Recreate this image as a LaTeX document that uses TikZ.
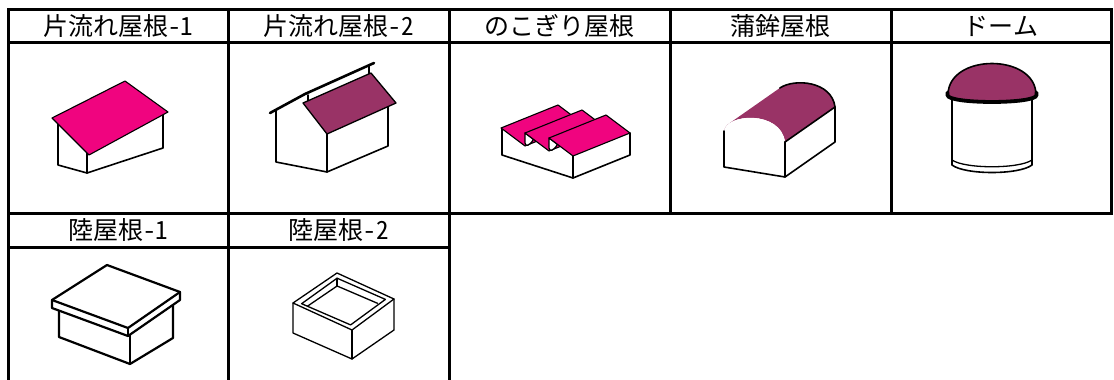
\documentclass[tikz,border=0pt]{standalone}
\usepackage{fontspec}
\newfontfamily\jpfont[RawFeature=+hwid]{Noto Sans CJK JP}
\definecolor{roofpink}{RGB}{240,4,127}
\definecolor{roofplum}{RGB}{153,51,102}
\begin{document}
\begin{tikzpicture}[x=1pt,y=-1pt,
  gridline/.style={line width=3pt},
  hdr/.style={font=\jpfont\fontsize{25}{25}\selectfont, inner sep=0pt, anchor=center},
  edge/.style={line width=1.6pt, line join=round, line cap=round},
  thin edge/.style={line width=1.3pt, line join=round, line cap=round},
  heavy/.style={line width=2.6pt, line join=round, line cap=round},
  pinkroof/.style={fill=roofpink, draw=black, line width=1.1pt, line join=round},
  plumroof/.style={fill=roofplum, draw=black, line width=1.3pt, line join=round}]
\useasboundingbox (0,0) rectangle (1114,380);
\fill[white] (0,0) rectangle (1114,380);

% ---------- grid ----------
\draw[gridline] (8,9) rectangle (1111,213);
\draw[gridline] (8,42) -- (1111,42);
\foreach \x in {228,449,670,891} \draw[gridline] (\x,9) -- (\x,213);
\draw[gridline] (8,213) -- (8,382);
\draw[gridline] (228,213) -- (228,382);
\draw[gridline] (449,213) -- (449,382);
\draw[gridline] (8,247) -- (449,247);

% ---------- headers ----------
\node[hdr] (h1) at (118,26) {片流れ屋根-1};
\node[hdr] (h2) at (338.5,26) {片流れ屋根-2};
\node[hdr] (h3) at (559.5,26) {のこぎり屋根};
\node[hdr] (h4) at (780.5,26) {蒲鉾屋根};
\node[hdr] (h5) at (1001,26) {ドーム};
\node[hdr] (h6) at (118,230) {陸屋根-1};
\node[hdr] (h7) at (338.5,230) {陸屋根-2};

% ---------- cell 1: shed roof 1 ----------
\draw[edge] (58,124) -- (58,165) -- (87,173) -- (163,148) -- (163,115);
\draw[edge] (87,153) -- (87,173);
\draw[pinkroof] (52,118) -- (125,81) -- (168,112) -- (89,155) -- cycle;

% ---------- cell 2: shed roof 2 ----------
\draw[edge] (276,110) -- (276,162) -- (327,172) -- (388,146) -- (388,106);
\draw[edge] (327,134) -- (327,172);
\draw[heavy] (270,113) -- (305,94) -- (374,63);
\draw[edge] (308,95) -- (308,101);
\draw[edge] (369,66) -- (369,75);
\draw[plumroof] (303,103) -- (371,73) -- (396,103) -- (327,134) -- cycle;

% ---------- cell 3: saw-tooth roof ----------
\fill[white] (502,129) -- (502,155) -- (573,178) -- (630,155) -- (630,133) -- (573,156) -- cycle;
\draw[edge] (502,129) -- (502,155) -- (573,178) -- (630,155) -- (630,133);
\draw[edge] (573,156) -- (573,178);
\foreach \i in {0,1,2} {
  \begin{scope}[shift={(24*\i,5*\i)}]
    \ifnum\i>0
      \filldraw[fill=white, thin edge] (501,128) -- (501,138) .. controls (501,142) and (506,141) .. (509.4,134.3) -- cycle;
    \fi
    \draw[pinkroof] (501,128) -- (558,105) -- (582,123) -- (525,146) -- cycle;
  \end{scope}
}

% ---------- cell 4: barrel roof ----------
\fill[roofplum] (724,132) .. controls (724.19,128.39) and (726.37,125.36) .. (729.8,123.03)
  -- (779.8,88.03) .. controls (794.4,78.12) and (831.76,81.08) .. (835,107)
  -- (785,142) .. controls (781,110) and (725,113) .. (724,132) -- cycle;
\fill[white] (724,132) .. controls (725,113) and (781,110) .. (785,142) -- (785,177) -- (724,167) -- cycle;
\draw[edge] (724,131) -- (724,167) -- (785,177) -- (785,142);
\filldraw[fill=white, edge] (785,142) -- (835,107) -- (835,142) -- (785,177) -- cycle;
\draw[edge] (779.8,88.03) .. controls (794.4,78.12) and (831.76,81.08) .. (835,107);

% ---------- cell 5: dome ----------
\filldraw[fill=white, edge] (952,97) -- (952,165) .. controls (965,175) and (1019,175) .. (1032,165) -- (1032,97);
\draw[thin edge] (952,160) .. controls (965,169) and (1019,169) .. (1032,160);
\fill[roofplum] (948,95) .. controls (948,53) and (1036,53) .. (1036,95)
  .. controls (1036,104.3) and (948,104.3) .. (948,95) -- cycle;
\draw[edge] (948,95) .. controls (948,53) and (1036,53) .. (1036,95);
\draw[line width=3.8pt, line cap=round] (947.5,92.5) -- (947.5,95) .. controls (947.5,104.3) and (1036.5,104.3) .. (1036.5,95) -- (1036.5,92.5);

% ---------- cell 6: flat roof 1 ----------
\begin{scope}[line width=2.2pt, line join=round, line cap=round]
\draw (59,310.6) -- (59,337) -- (130,364) -- (173,338) -- (173,304.8);
\draw (130,334.6) -- (130,364);
\filldraw[fill=white] (52,300) -- (107,265) -- (180,292) -- (180,300) -- (128,336) -- (52,308) -- cycle;
\draw (52,300) -- (128,328) -- (180,292);
\draw (128,328) -- (128,336);
\end{scope}

% ---------- cell 7: flat roof 2 ----------
\draw[thin edge] (293,303) -- (293,333) -- (352,359) -- (394,330) -- (394,299);
\draw[thin edge] (352,330) -- (352,359);
\draw[thin edge] (293,303) -- (337,273) -- (394,299) -- (352,330) -- cycle;
\draw[thin edge] (301.6,303.7) -- (337.1,278.2) -- (385.4,299.4) -- (350.6,324.9) -- cycle;
\draw[thin edge] (337.1,278.2) -- (337.1,286);
\draw[thin edge] (307.3,306.3) -- (337.1,286) -- (377.5,303.3);

\end{tikzpicture}
\end{document}
